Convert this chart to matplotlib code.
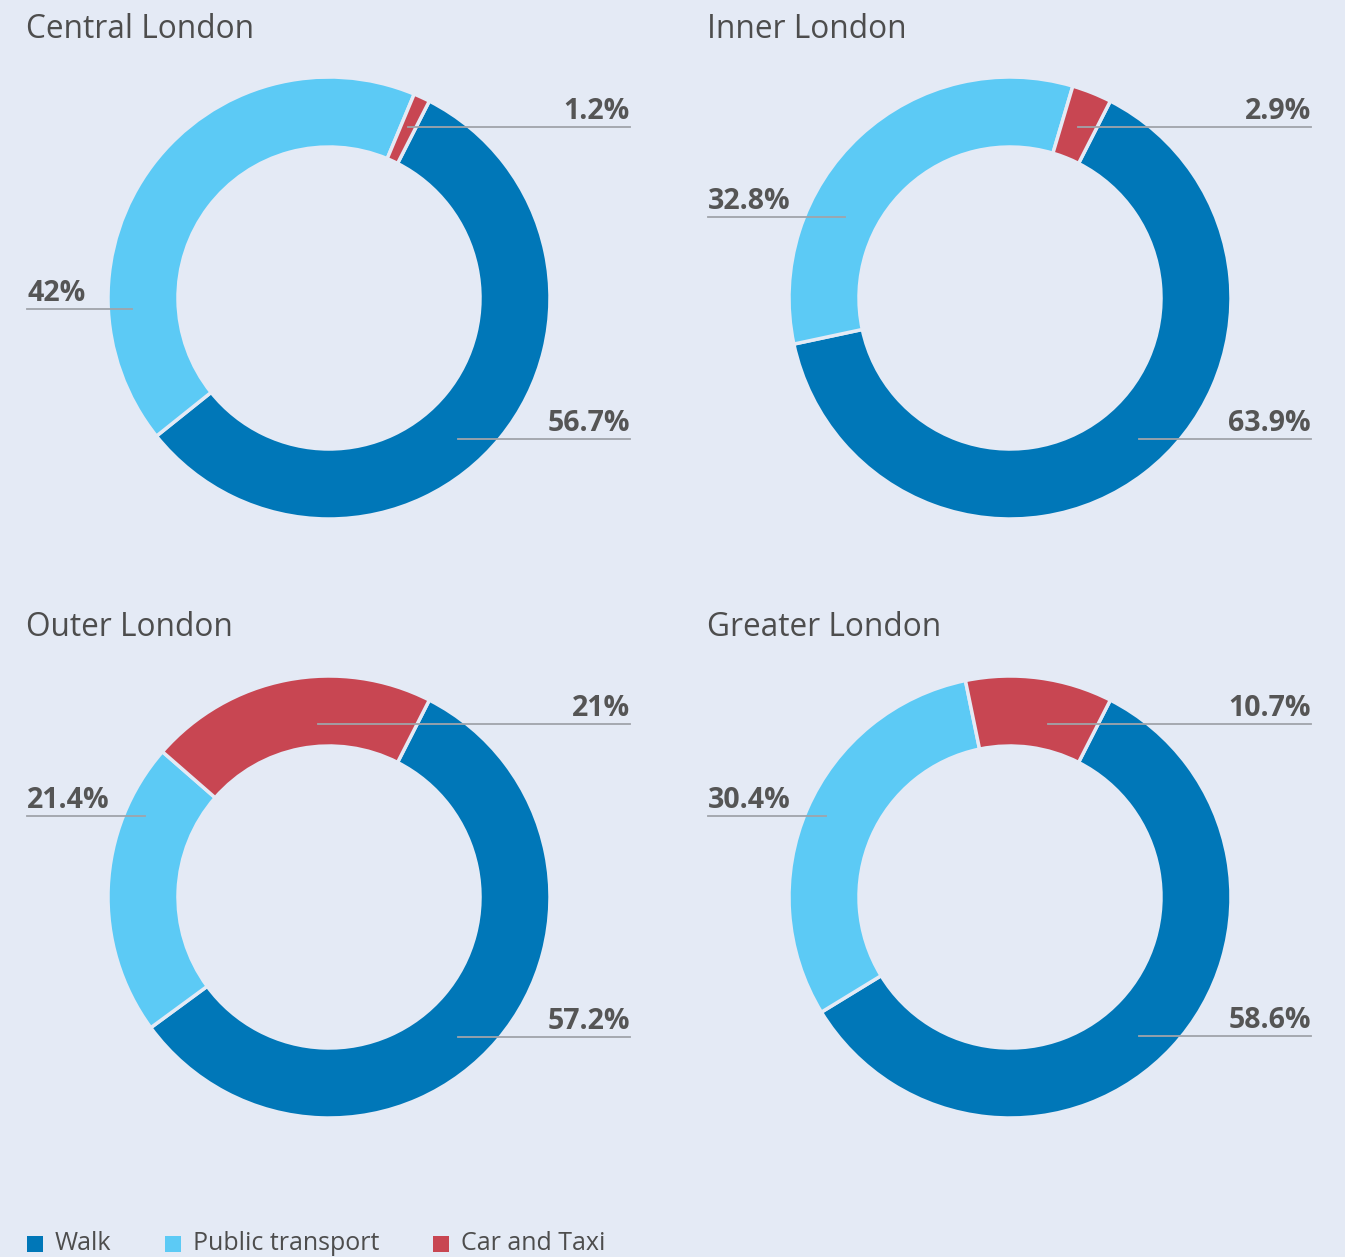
import matplotlib.pyplot as plt
from matplotlib.patches import Rectangle

plt.rcParams['font.family'] = ['Open Sans', 'DejaVu Sans']

# DATA
regions = ['Central London', 'Inner London', 'Outer London', 'Greater London']
modes = ['Walk', 'Public transport', 'Car and Taxi']
walk = [56.7, 63.9, 57.2, 58.6]
public_transport = [42, 32.8, 21.4, 30.4]
car_taxi = [1.2, 2.9, 21, 10.7]

colors = ['#0077b8', '#5ccaf5', '#c84652']
bg = '#e4eaf5'
text_col = '#555555'

W, H = 1345, 1257
R = 221
ring = 70

# LAYOUT (pixels, y down) - donut centres and label leader positions
centres = [(329, 298), (1010, 298), (329, 897), (1010, 897)]
# per slice: (x offset of line start, y offset of line, side)
leaders = [
    [(129, 141, 'r'), (-197, 11, 'l'), (79, -171, 'r')],
    [(129, 141, 'r'), (-165, -81, 'l'), (68, -171, 'r')],
    [(129, 140, 'r'), (-184, -81, 'l'), (-11, -173, 'r')],
    [(129, 139, 'r'), (-184, -81, 'l'), (38, -173, 'r')],
]
legend_x = [27, 165, 433]


def py(y):
    return H - y


fig = plt.figure(figsize=(W / 100, H / 100), dpi=100, facecolor=bg)
ax = fig.add_axes([0, 0, 1, 1])
ax.set_facecolor(bg)

for i, region in enumerate(regions):
    cx, cy = centres[i]
    vals = [walk[i], public_transport[i], car_taxi[i]]
    ax.pie(vals, center=(cx, py(cy)), radius=R, startangle=63, counterclock=False,
           colors=colors,
           wedgeprops=dict(width=ring, edgecolor=bg, linewidth=2.5))

    ax.text(cx - 303, py(cy - 269), region, fontsize=22.8, color='#4d4d4d',
            ha='left', va='center')

    for v, (dx, dy, side) in zip(vals, leaders[i]):
        lbl = '{:g}%'.format(v)
        ly = py(cy + dy)
        if side == 'r':
            xe = cx + 301
            ax.plot([cx + dx, xe], [ly, ly], color='#a0a4aa', lw=1.3)
            ax.text(xe, ly + 8, lbl, ha='right', va='baseline', fontsize=20.5,
                    fontweight='bold', color=text_col)
        else:
            xe = cx - 302
            ax.plot([xe, cx + dx], [ly, ly], color='#a0a4aa', lw=1.3)
            ax.text(xe, ly + 8, lbl, ha='left', va='baseline', fontsize=20.5,
                    fontweight='bold', color=text_col)

# legend
for x, c, m in zip(legend_x, colors, modes):
    ax.add_patch(Rectangle((x, py(1252)), 16, 16, facecolor=c, edgecolor='none'))
    ax.text(x + 28, py(1244), m, fontsize=18, color='#4d4d4d', ha='left', va='center')

ax.set_xlim(0, W)
ax.set_ylim(0, H)
ax.set_aspect('equal')
ax.axis('off')

fig.savefig('out.png', dpi=100, facecolor=bg)
